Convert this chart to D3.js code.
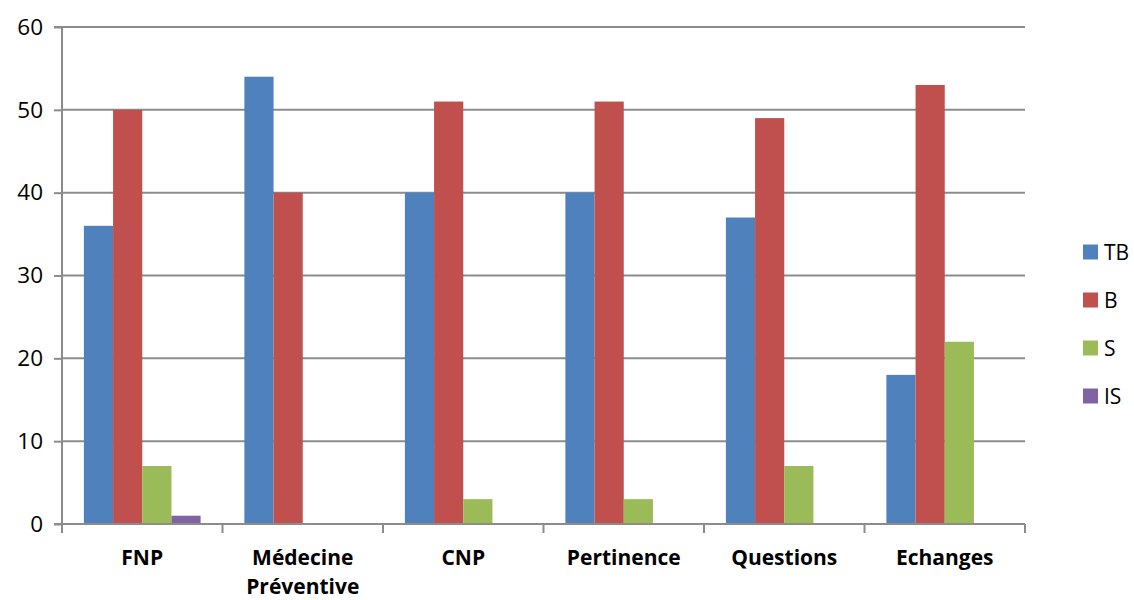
<!DOCTYPE html>
<html><head><meta charset="utf-8">
<script src="https://cdn.jsdelivr.net/npm/d3@7"></script>
<style>body{margin:0;background:#fff}svg{display:block}</style>
</head><body>
<svg id="c" width="1134" height="600"></svg>
<script>
const categories = ["FNP", "Médecine Préventive", "CNP", "Pertinence", "Questions", "Echanges"];
const seriesNames = ["TB", "B", "S", "IS"];
const TB = [36, 54, 40, 40, 37, 18];
const B  = [50, 40, 51, 51, 49, 53];
const S  = [7, 0, 3, 3, 7, 22];
const IS = [1, 0, 0, 0, 0, 0];
const yTicks = [0, 10, 20, 30, 40, 50, 60];
const colors = ["#4f81bd", "#c0504d", "#9bbb59", "#8064a2"];

const series = [TB, B, S, IS];
const svg = d3.select("#c");
const L = 62, R = 1025, T = 27, Bt = 524;
const x = d3.scaleBand().domain(categories).range([L, R]);
const bw = x.bandwidth() / (4 + 1.5);
const xs = d3.scaleBand().domain(seriesNames).range([0.75 * bw, 0.75 * bw + 4 * bw]);
const y = d3.scaleLinear().domain([0, 60]).range([Bt, T]);
const font = "'Open Sans', 'Noto Sans', sans-serif";

// gridlines
svg.append("g").selectAll("line").data(yTicks.filter(d => d > 0)).join("line")
  .attr("x1", L).attr("x2", R).attr("y1", d => y(d)).attr("y2", d => y(d))
  .attr("stroke", "#8c8c8c").attr("stroke-width", 2);

// bars
const rows = [];
categories.forEach((c, i) => seriesNames.forEach((s, j) => rows.push({c, s, j, v: series[j][i]})));
svg.append("g").selectAll("rect").data(rows.filter(d => d.v > 0)).join("rect")
  .attr("x", d => x(d.c) + xs(d.s)).attr("width", xs.bandwidth())
  .attr("y", d => y(d.v)).attr("height", d => y(0) - y(d.v))
  .attr("fill", d => colors[d.j]);

// y axis
const ya = svg.append("g").attr("transform", `translate(${L},0)`)
  .call(d3.axisLeft(y).tickValues(yTicks).tickSize(8).tickPadding(11).tickFormat(d3.format("d")));
ya.select(".domain").attr("stroke", "#8c8c8c").attr("stroke-width", 2).attr("d", `M-8,${T}H0V${Bt}H-8`);
ya.selectAll(".tick line").attr("stroke", "#8c8c8c").attr("stroke-width", 2);
ya.selectAll("text").attr("font-family", font).attr("font-size", 22.5).attr("fill", "#000");

// x axis
const xa = svg.append("g").attr("transform", `translate(0,${Bt})`);
xa.append("line").attr("x1", L).attr("x2", R).attr("stroke", "#8c8c8c").attr("stroke-width", 2);
xa.selectAll(".tk").data(categories.map(c => x(c)).concat([R])).join("line")
  .attr("x1", d => d).attr("x2", d => d).attr("y1", 0).attr("y2", 9)
  .attr("stroke", "#8c8c8c").attr("stroke-width", 2);
xa.selectAll(".lbl").data(categories).join("text")
  .attr("x", d => x(d) + x.bandwidth() / 2).attr("y", 41)
  .attr("text-anchor", "middle").attr("font-family", font).attr("font-weight", "bold")
  .attr("font-size", 21).attr("fill", "#000")
  .each(function(d) {
    const words = d.split(" ");
    d3.select(this).selectAll("tspan").data(words).join("tspan")
      .attr("x", x(d) + x.bandwidth() / 2).attr("dy", (w, k) => k === 0 ? 0 : 28.7).text(w => w);
  });

// legend
const lg = svg.append("g");
seriesNames.forEach((s, j) => {
  const cy = 252 + j * 48;
  lg.append("rect").attr("x", 1083).attr("y", cy - 7.5).attr("width", 15).attr("height", 15).attr("fill", colors[j]);
  lg.append("text").attr("x", 1104).attr("y", cy + 7.5).attr("font-family", font).attr("font-size", 21).attr("fill", "#000").text(s);
});
</script>
</body></html>
